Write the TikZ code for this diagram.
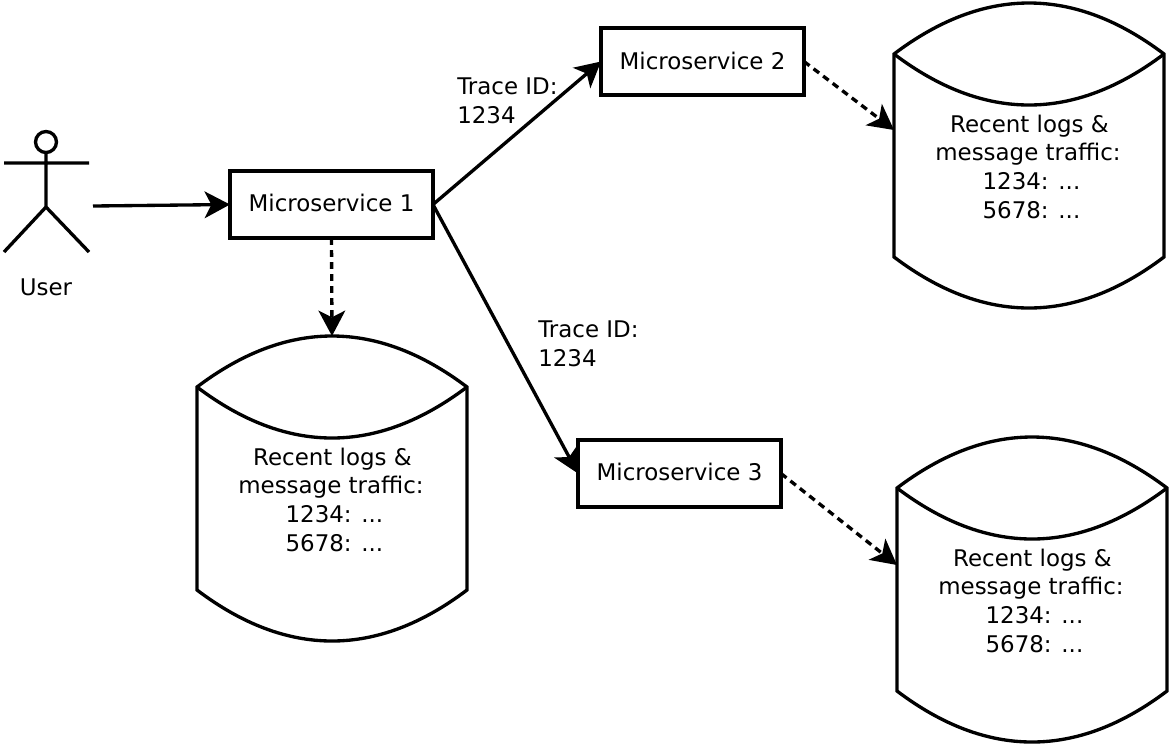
\documentclass[tikz,border=0pt]{standalone}
\usepackage{fontspec}
\setmainfont{DejaVu Sans}
\usetikzlibrary{arrows.meta,calc}
\newcommand{\storelines}{\hspace*{2.2pt}Recent logs \&\\message traffic:\\\hspace*{5.2pt}1234: ...\\\hspace*{5.2pt}5678: ...}
\tikzset{
  px/.style={line width=2.5pt},
  service/.style={draw,px,rectangle,minimum width=152.25pt,minimum height=50.25pt,inner sep=0pt,outer sep=0pt,font=\fontsize{17.2pt}{21.5pt}\selectfont},
  store/.style={rectangle,minimum width=202.5pt,minimum height=228.75pt,inner sep=0pt,outer sep=0pt},
  storetext/.style={align=center,inner sep=0pt,font=\fontsize{17.2pt}{21.5pt}\selectfont},
  plaintext/.style={align=left,inner sep=0pt,anchor=west,font=\fontsize{17.2pt}{21.5pt}\selectfont},
  conn/.style={draw,px,-{Stealth[length=19pt,width=20pt,inset=5pt]}},
  dashconn/.style={conn,dash pattern=on 5.2pt off 3.8pt},
  figure/.style={draw,px}
}
\newcommand{\drawstore}[1]{%
  \draw[px] ($(#1.north west)+(0,51)$)
    .. controls ($(#1.north west)+(45,17)$) and ($(#1.north)+(-45,0)$) .. (#1.north)
    .. controls ($(#1.north)+(45,0)$) and ($(#1.north east)+(-45,17)$) .. ($(#1.north east)+(0,51)$)
    -- ($(#1.south east)+(0,-51)$)
    .. controls ($(#1.south east)+(-45,-17)$) and ($(#1.south)+(45,0)$) .. (#1.south)
    .. controls ($(#1.south)+(-45,0)$) and ($(#1.south west)+(45,-17)$) .. ($(#1.south west)+(0,-51)$)
    -- cycle;
  \draw[px] ($(#1.north west)+(0,51)$)
    .. controls ($(#1.north west)+(45,85)$) and ($(#1.north)+(-45,102)$) .. ($(#1.north)+(0,102)$)
    .. controls ($(#1.north)+(45,102)$) and ($(#1.north east)+(-45,85)$) .. ($(#1.north east)+(0,51)$);
}
\begin{document}
\begin{tikzpicture}[x=.75pt,y=-.75pt]
\useasboundingbox (0,0) rectangle (1169,744);
\node[service] (m1) at (331.5,204.5) {\raisebox{2pt}{Microservice 1}};
\node[service] (m2) at (702.5,61.5) {\raisebox{1.2pt}{Microservice 2}};
\node[service] (m3) at (679.5,473.5) {\raisebox{2pt}{Microservice 3}};
\node[store] (db1) at (332,488.5) {};
\node[store] (db2) at (1029,155.5) {};
\node[store] (db3) at (1032,589.5) {};
\foreach \d in {db1,db2,db3}{\drawstore{\d}}
\node[storetext] (t1) at (331,499.5) {\storelines};
\node[storetext] (t2) at (1028,166.5) {\storelines};
\node[storetext] (t3) at (1031,600.5) {\storelines};
% user
\draw[figure] (46,142) circle (10.5);
\draw[figure] (46,153) -- (46,207) (4,163) -- (89,163) (4,252) -- (46,207) -- (89,252);
\node[inner sep=0pt,font=\fontsize{17.2pt}{21.5pt}\selectfont] (user) at (46,287) {User};
\coordinate (ufrom) at (93,206);
\coordinate (in2) at (894,130);
\coordinate (in3) at (897,565);
\node[plaintext] (l1) at (457,101) {Trace ID:\\1234};
\node[plaintext] (l2) at (538,344) {Trace ID:\\1234};
\draw[conn] (ufrom) -- (m1.west);
\draw[conn] (m1.east) -- (m2.west);
\draw[conn] (m1.east) -- (m3.west);
\draw[dashconn] (m1.south) -- (db1.north);
\draw[dashconn] (m2.east) -- (in2);
\draw[dashconn] (m3.east) -- (in3);
\end{tikzpicture}
\end{document}
